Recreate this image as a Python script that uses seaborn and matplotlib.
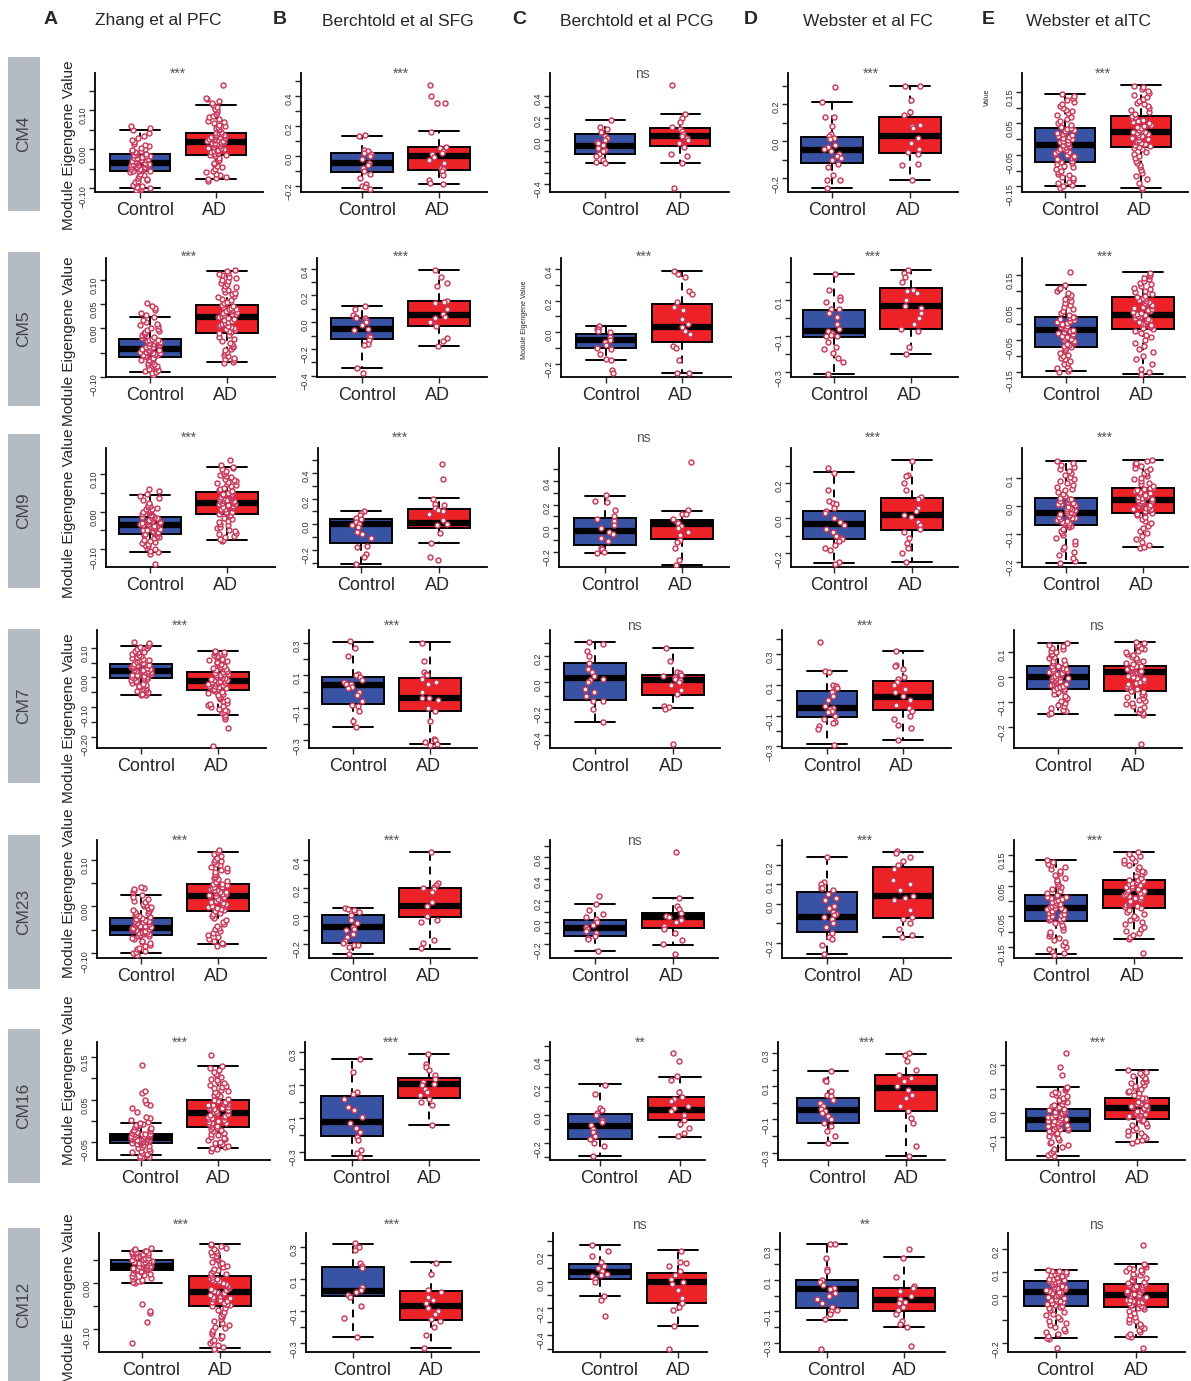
import numpy as np
import pandas as pd
import seaborn as sns
import matplotlib.pyplot as plt
from matplotlib.patches import Rectangle
from matplotlib.transforms import ScaledTranslation

# ---- data ----
MODULES = ["CM4", "CM5", "CM9", "CM7", "CM23", "CM16", "CM12"]
GROUPS = ["Control", "AD"]
LETTERS = ["A", "B", "C", "D", "E"]
STUDIES = ["Zhang et al PFC", "Berchtold et al SFG", "Berchtold et al PCG",
           "Webster et al FC", "Webster et alTC"]

# significance per study, in module order
sig_zhang = ["***", "***", "***", "***", "***", "***", "***"]
sig_sfg = ["***", "***", "***", "***", "***", "***", "***"]
sig_pcg = ["ns", "***", "ns", "ns", "ns", "**", "ns"]
sig_fc = ["***", "***", "***", "***", "***", "***", "**"]
sig_tc = ["***", "***", "***", "ns", "***", "***", "ns"]

# box summaries: (lower whisker, q1, median, q3, upper whisker) for Control, AD
box_zhang = {
    "CM4": ([-0.100, -0.056, -0.035, -0.012, 0.050], [-0.075, -0.013, 0.018, 0.042, 0.113]),
    "CM5": ([-0.090, -0.058, -0.043, -0.022, 0.023], [-0.070, -0.010, 0.023, 0.048, 0.119]),
    "CM9": ([-0.108, -0.059, -0.036, -0.013, 0.044], [-0.076, -0.006, 0.024, 0.051, 0.119]),
    "CM7": ([-0.058, -0.002, 0.022, 0.044, 0.106], [-0.124, -0.041, -0.013, 0.020, 0.090]),
    "CM23": ([-0.100, -0.060, -0.045, -0.025, 0.025], [-0.081, -0.010, 0.023, 0.048, 0.117]),
    "CM16": ([-0.080, -0.053, -0.041, -0.030, -0.006], [-0.065, -0.014, 0.019, 0.048, 0.128]),
    "CM12": ([0.000, 0.029, 0.038, 0.051, 0.070], [-0.140, -0.049, -0.018, 0.016, 0.085]),
}
box_sfg = {
    "CM4": ([-0.211, -0.109, -0.047, 0.016, 0.133], [-0.184, -0.096, 0.000, 0.062, 0.162]),
    "CM5": ([-0.345, -0.128, -0.053, 0.035, 0.118], [-0.178, -0.025, 0.055, 0.158, 0.388]),
    "CM9": ([-0.309, -0.144, 0.000, 0.041, 0.103], [-0.149, -0.031, 0.010, 0.119, 0.206]),
    "CM7": ([-0.217, -0.074, 0.043, 0.092, 0.308], [-0.322, -0.121, -0.041, 0.086, 0.304]),
    "CM23": ([-0.270, -0.192, -0.078, 0.005, 0.057], [-0.233, -0.005, 0.074, 0.200, 0.460]),
    "CM16": ([-0.324, -0.206, -0.120, 0.034, 0.256], [-0.140, 0.026, 0.110, 0.146, 0.290]),
    "CM12": ([-0.260, -0.006, 0.027, 0.173, 0.317], [-0.330, -0.156, -0.069, 0.025, 0.204]),
}
box_pcg = {
    "CM4": ([-0.210, -0.127, -0.052, 0.052, 0.180], [-0.206, -0.058, 0.036, 0.112, 0.236]),
    "CM5": ([-0.175, -0.100, -0.053, -0.013, 0.040], [-0.260, -0.066, 0.032, 0.178, 0.390]),
    "CM9": ([-0.214, -0.141, -0.023, 0.090, 0.276], [-0.310, -0.090, 0.034, 0.065, 0.146]),
    "CM7": ([-0.298, -0.136, 0.033, 0.152, 0.310], [-0.194, -0.098, 0.020, 0.058, 0.265]),
    "CM23": ([-0.264, -0.128, -0.052, 0.018, 0.167], [-0.210, -0.052, 0.048, 0.090, 0.225]),
    "CM16": ([-0.288, -0.167, -0.074, 0.007, 0.224], [-0.152, -0.033, 0.038, 0.129, 0.276]),
    "CM12": ([-0.108, 0.020, 0.070, 0.133, 0.275], [-0.330, -0.163, -0.005, 0.063, 0.233]),
}
box_fc = {
    "CM4": ([-0.250, -0.115, -0.048, 0.025, 0.210], [-0.210, -0.061, 0.029, 0.133, 0.300]),
    "CM5": ([-0.306, -0.103, -0.072, 0.046, 0.245], [-0.198, -0.059, 0.070, 0.172, 0.269]),
    "CM9": ([-0.253, -0.118, -0.032, 0.042, 0.263], [-0.248, -0.067, 0.019, 0.118, 0.333]),
    "CM7": ([-0.285, -0.112, -0.052, 0.058, 0.190], [-0.260, -0.063, 0.022, 0.125, 0.322]),
    "CM23": ([-0.256, -0.145, -0.070, 0.060, 0.242], [-0.170, -0.073, 0.041, 0.187, 0.267]),
    "CM16": ([-0.240, -0.124, -0.044, 0.032, 0.190], [-0.318, -0.050, 0.090, 0.170, 0.296]),
    "CM12": ([-0.153, -0.077, 0.040, 0.100, 0.330], [-0.200, -0.100, -0.028, 0.047, 0.245]),
}
box_tc = {
    "CM4": ([-0.150, -0.072, -0.020, 0.034, 0.143], [-0.155, -0.024, 0.021, 0.074, 0.172]),
    "CM5": ([-0.145, -0.071, -0.019, 0.022, 0.119], [-0.154, -0.016, 0.028, 0.082, 0.160]),
    "CM9": ([-0.204, -0.068, -0.024, 0.028, 0.163], [-0.146, -0.024, 0.022, 0.066, 0.166]),
    "CM7": ([-0.149, -0.047, -0.001, 0.047, 0.137], [-0.151, -0.054, 0.019, 0.047, 0.143]),
    "CM23": ([-0.173, -0.066, -0.021, 0.021, 0.135], [-0.124, -0.023, 0.029, 0.070, 0.162]),
    "CM16": ([-0.180, -0.075, -0.028, 0.014, 0.108], [-0.121, -0.024, 0.021, 0.063, 0.178]),
    "CM12": ([-0.177, -0.043, 0.016, 0.065, 0.110], [-0.173, -0.045, 0.004, 0.050, 0.135]),
}

# individual samples, estimated from the jittered dots.
# the two large cohorts are written in thousandths to keep the lists short.
pts_zhang_milli = {
    "CM4": ([-105, -103, -101, -99, -97, -95, -93, -90, -87, -84, -81, -78, -75, -72, -69, -66, -62, -59,
             -56, -55, -54, -53, -51, -50, -49, -48, -46, -45, -44, -43, -41, -40, -39, -38, -37, -36,
             -35, -34, -33, -31, -30, -29, -28, -26, -25, -24, -23, -21, -20, -19, -17, -16, -14, -13,
             -11, -9, -7, -5, -3, -1, 2, 5, 8, 11, 15, 19, 24, 29, 35, 42, 50, 55, 59],
            [-80, -76, -73, -70, -66, -62, -58, -54, -50, -46, -42, -38, -34, -30, -26, -22, -18, -15,
             -13, -11, -9, -7, -5, -3, -1, 1, 3, 5, 7, 9, 11, 12, 14, 15, 16, 17,
             18, 19, 21, 22, 23, 25, 26, 27, 29, 30, 31, 33, 34, 35, 37, 38, 40, 41,
             43, 46, 49, 52, 55, 58, 61, 64, 67, 70, 74, 78, 82, 86, 90, 95, 100, 105, 110, 115, 120,
             125, 130, 133, 165]),
    "CM5": ([-95, -92, -90, -88, -86, -84, -82, -80, -78, -76, -74, -72, -70, -68, -66, -64, -62, -60,
             -58, -57, -56, -55, -54, -53, -52, -51, -50, -49, -48, -47, -46, -45, -44, -43,
             -42, -41, -39, -38, -37, -35, -34, -33, -31, -30, -29, -27, -26, -25, -24, -23,
             -21, -19, -17, -15, -13, -11, -9, -7, -5, -3, -1, 1, 4, 7, 10, 14, 18, 23, 28, 32, 37,
             42, 46, 52],
            [-72, -69, -66, -63, -60, -57, -54, -51, -48, -45, -42, -39, -36, -33, -29, -25, -21, -17, -13,
             -10, -8, -6, -4, -2, 0, 2, 4, 6, 8, 10, 12, 14, 16, 18, 20, 22,
             23, 24, 26, 27, 29, 30, 32, 33, 35, 36, 38, 39, 41, 42, 44, 45, 47,
             49, 52, 55, 58, 61, 64, 67, 70, 73, 76, 79, 82, 85, 88, 91, 94, 97, 100, 103, 106, 109,
             112, 115, 118, 121]),
    "CM9": ([-140, -112, -108, -104, -100, -96, -92, -89, -86, -83, -80, -77, -74, -71, -68, -65, -62, -60,
             -59, -57, -56, -54, -53, -51, -50, -48, -47, -45, -44, -42, -41, -39, -38, -37,
             -36, -34, -33, -31, -30, -28, -27, -25, -24, -22, -21, -19, -18, -16, -15, -14,
             -12, -10, -8, -6, -4, -2, 0, 2, 4, 6, 8, 10, 12, 14, 17, 22, 30, 36, 42, 47, 55, 59],
            [-79, -76, -72, -68, -64, -60, -56, -52, -48, -44, -40, -36, -32, -28, -24, -20, -16, -12, -8,
             -6, -4, -2, 0, 2, 4, 6, 8, 10, 12, 13, 15, 16, 18, 19, 21, 22,
             24, 25, 27, 28, 30, 31, 33, 34, 36, 37, 39, 40, 42, 43, 45, 46, 48, 50,
             52, 55, 58, 61, 64, 67, 70, 73, 76, 79, 82, 85, 88, 91, 94, 97, 100, 104, 108, 112, 116,
             119, 125, 137]),
    "CM7": ([-60, -57, -54, -51, -48, -45, -42, -39, -36, -33, -30, -27, -24, -21, -18, -15, -12, -9, -6, -3,
             -2, 0, 2, 4, 5, 7, 8, 10, 11, 13, 14, 16, 17, 19, 20, 21,
             22, 23, 25, 26, 27, 29, 30, 31, 33, 34, 35, 37, 38, 39, 41, 42, 43,
             45, 48, 51, 54, 57, 60, 63, 66, 69, 72, 75, 78, 81, 84, 87, 90, 94, 98, 102, 106, 110, 115,
             120],
            [-230, -170, -140, -132, -124, -120, -116, -112, -108, -104, -100, -96, -92, -88, -84, -80, -76,
             -72, -68, -64, -60, -56, -52, -48, -44,
             -41, -39, -37, -35, -33, -31, -29, -27, -25, -23, -21, -19, -17, -15, -14,
             -13, -11, -9, -7, -5, -3, -1, 1, 3, 5, 7, 9, 11, 13, 15, 17, 19,
             21, 24, 27, 30, 33, 36, 39, 42, 45, 48, 51, 54, 57, 60, 63, 66, 69, 72, 75, 78, 81, 84, 87,
             90]),
    "CM23": ([-103, -100, -97, -94, -91, -88, -85, -82, -79, -76, -73, -70, -67, -64, -62,
              -60, -59, -58, -57, -56, -55, -54, -53, -52, -51, -50, -49, -48, -47, -46,
              -45, -44, -43, -42, -41, -39, -38, -37, -35, -34, -33, -31, -30, -29, -27, -26,
              -24, -22, -20, -18, -16, -14, -12, -10, -8, -6, -4, -2, 0, 3, 6, 9, 12, 16, 20, 25, 30,
              35, 38, 40, 42],
             [-85, -81, -77, -73, -69, -65, -61, -57, -53, -49, -45, -41, -37, -33, -29, -25, -21, -17, -13,
              -10, -8, -6, -4, -2, 0, 2, 4, 6, 8, 10, 12, 14, 16, 18, 20, 22,
              23, 24, 26, 27, 29, 30, 32, 33, 35, 36, 38, 39, 41, 42, 44, 45, 47,
              49, 52, 55, 58, 61, 64, 67, 70, 73, 76, 79, 82, 85, 88, 91, 94, 97, 100, 104, 108, 112,
              116, 121]),
    "CM16": ([-88, -86, -84, -82, -80, -78, -76, -74, -72, -70, -67, -64, -61, -58, -56, -54,
              -53, -52, -51, -50, -50, -49, -48, -47, -46, -46, -45, -44, -43, -42, -42, -41,
              -40, -39, -39, -38, -37, -36, -36, -35, -34, -33, -33, -32, -31, -31, -30,
              -29, -27, -25, -23, -21, -19, -17, -15, -13, -11, -9, -7, -5, -2, 2, 6, 10, 20, 30, 37,
              42, 50, 65, 70, 130],
             [-70, -67, -64, -61, -58, -55, -52, -49, -46, -43, -40, -37, -34, -31, -28, -25, -22, -19, -16,
              -14, -12, -10, -8, -6, -4, -2, 0, 2, 4, 6, 8, 10, 12, 14, 16, 18,
              19, 21, 22, 24, 25, 27, 28, 30, 31, 33, 34, 36, 37, 39, 40, 42, 44, 46,
              49, 52, 55, 58, 61, 64, 67, 70, 73, 76, 79, 82, 85, 88, 91, 95, 99, 103, 107, 111, 115,
              119, 123, 128, 155]),
    "CM12": ([-130, -85, -65, -60, -45,
              0, 2, 4, 6, 8, 10, 12, 14, 16, 18, 20, 22, 24, 26, 27, 28,
              29, 30, 30, 31, 32, 32, 33, 34, 34, 35, 35, 36, 37, 37,
              38, 39, 40, 41, 42, 43, 44, 45, 46, 47, 48, 49, 50, 51,
              52, 53, 54, 55, 56, 57, 58, 59, 60, 61, 62, 63, 64, 65, 66, 67, 68, 69, 70, 72, 74, 76],
             [-146, -142, -138, -134, -130, -126, -122, -118, -114, -110, -106, -102, -98, -94, -90, -86,
              -82, -78, -74, -70, -66, -62, -58, -54, -50,
              -48, -46, -44, -42, -40, -38, -36, -34, -32, -30, -28, -26, -24, -22, -20,
              -18, -16, -14, -12, -10, -8, -6, -4, -2, 0, 2, 4, 6, 8, 10, 12, 14,
              17, 20, 23, 26, 29, 32, 35, 38, 41, 44, 47, 50, 53, 56, 59, 62, 65, 68, 71, 74, 77, 80,
              83, 86]),
}
pts_tc_milli = {
    "CM4": ([-155, -150, -145, -140, -135, -130, -125, -120, -115, -110, -105, -100, -95, -90, -85, -80, -76,
             -72, -69, -66, -63, -60, -57, -54, -51, -48, -45, -42, -39, -36, -33, -30, -27, -24, -22,
             -20, -17, -14, -11, -8, -5, -2, 1, 4, 7, 10, 13, 16, 19, 22, 25, 28, 31,
             34, 40, 46, 52, 58, 64, 70, 76, 82, 88, 94, 100, 106, 112, 118, 124, 130, 136, 143],
            [-160, -155, -140, -128, -118, -108, -98, -90, -82, -75, -68, -61, -54, -47, -40, -33, -28,
             -24, -21, -18, -15, -12, -9, -6, -3, 0, 3, 6, 9, 12, 15, 18,
             21, 24, 27, 30, 34, 38, 42, 46, 50, 54, 58, 62, 66, 70,
             74, 80, 86, 92, 98, 104, 110, 116, 122, 128, 134, 140, 146, 152, 158, 164, 170]),
    "CM5": ([-148, -145, -140, -135, -130, -125, -120, -115, -110, -105, -100, -95, -90, -85, -80, -75,
             -71, -68, -65, -62, -59, -56, -53, -50, -47, -44, -41, -38, -35, -32, -29, -26, -23, -21,
             -19, -16, -13, -10, -7, -4, -1, 2, 5, 8, 11, 14, 17, 20,
             22, 28, 34, 40, 46, 52, 58, 64, 70, 76, 82, 88, 94, 100, 106, 112, 119, 160],
            [-156, -150, -140, -125, -110, -98, -88, -78, -68, -58, -50, -42, -35, -28, -22,
             -16, -13, -10, -7, -4, -1, 2, 5, 8, 11, 14, 17, 20, 23, 26,
             28, 31, 34, 37, 40, 43, 46, 49, 52, 55, 58, 61, 64, 67, 70, 73, 76, 79,
             82, 87, 92, 97, 102, 107, 112, 117, 122, 127, 132, 137, 142, 147, 152, 158]),
    "CM9": ([-204, -195, -185, -175, -165, -155, -145, -135, -125, -115, -105, -97, -90, -83, -76, -71,
             -68, -65, -62, -59, -56, -53, -50, -47, -44, -41, -38, -35, -32, -29, -26,
             -24, -21, -18, -15, -12, -9, -6, -3, 0, 3, 6, 9, 12, 15, 18, 21, 24, 26,
             28, 35, 42, 49, 56, 63, 70, 77, 84, 91, 98, 105, 112, 119, 126, 133, 140, 147, 155, 163],
            [-150, -146, -138, -128, -118, -108, -98, -88, -78, -70, -62, -54, -46, -38, -31, -27,
             -24, -21, -18, -15, -12, -9, -6, -3, 0, 3, 6, 9, 12, 15, 18, 20,
             22, 25, 28, 31, 34, 37, 40, 43, 46, 49, 52, 55, 58, 61, 64,
             66, 72, 78, 84, 90, 96, 102, 108, 114, 120, 126, 132, 138, 144, 150, 156, 162, 166]),
    "CM7": ([-150, -145, -138, -131, -124, -117, -110, -103, -96, -89, -82, -75, -68, -61, -55, -50,
             -47, -44, -41, -38, -35, -32, -29, -26, -23, -20, -17, -14, -11, -8, -5, -3,
             -1, 2, 5, 8, 11, 14, 17, 20, 23, 26, 29, 32, 35, 38, 41, 44,
             47, 53, 59, 65, 71, 77, 83, 89, 95, 101, 107, 113, 119, 125, 131, 137],
            [-270, -151, -145, -139, -133, -127, -121, -115, -109, -103, -97, -91, -85, -79, -73, -67, -61,
             -57, -54, -49, -44, -39, -34, -29, -24, -19, -14, -9, -4, 1, 6, 11, 15, 17,
             19, 21, 23, 25, 27, 29, 31, 33, 35, 37, 39, 41, 43, 45,
             47, 53, 59, 65, 71, 77, 83, 89, 95, 101, 107, 113, 119, 125, 131, 137, 143]),
    "CM23": ([-175, -170, -163, -156, -149, -142, -135, -128, -121, -114, -107, -100, -93, -86, -79, -72,
              -66, -63, -60, -57, -54, -51, -48, -45, -42, -39, -36, -33, -30, -27, -24,
              -21, -18, -15, -12, -9, -6, -3, 0, 3, 6, 9, 12, 15, 18,
              21, 27, 33, 39, 45, 51, 57, 63, 69, 75, 81, 87, 93, 99, 105, 111, 117, 123, 129, 135],
             [-170, -124, -118, -111, -104, -97, -90, -83, -76, -69, -62, -55, -48, -41, -34, -28,
              -23, -20, -17, -14, -11, -8, -5, -2, 1, 4, 7, 10, 13, 16, 19, 22, 25, 27,
              29, 32, 35, 38, 41, 44, 47, 50, 53, 56, 59, 62, 65, 68,
              70, 76, 82, 88, 94, 100, 106, 112, 118, 124, 130, 136, 142, 148, 154, 162]),
    "CM16": ([-182, -176, -168, -160, -152, -144, -136, -128, -120, -112, -104, -97, -90, -83, -78,
              -75, -72, -69, -66, -63, -60, -57, -54, -51, -48, -45, -42, -39, -36, -33, -30,
              -28, -25, -22, -19, -16, -13, -10, -7, -4, -1, 2, 5, 8, 11,
              14, 19, 24, 29, 34, 39, 44, 49, 54, 59, 64, 69, 74, 79, 84, 89, 94, 99, 104, 108, 160,
              190, 250],
             [-125, -119, -112, -105, -98, -91, -84, -77, -70, -63, -56, -49, -42, -35, -29,
              -24, -21, -18, -15, -12, -9, -6, -3, 0, 3, 6, 9, 12, 15, 18,
              21, 24, 27, 30, 33, 36, 39, 42, 45, 48, 51, 54, 57, 60,
              63, 69, 75, 81, 87, 93, 99, 105, 111, 117, 123, 129, 135, 141, 147, 153, 159, 165, 171,
              178]),
    "CM12": ([-220, -180, -177, -170, -162, -154, -146, -138, -130, -122, -114, -106, -98, -90, -82, -74,
              -66, -58, -50, -46,
              -43, -39, -35, -31, -27, -23, -19, -15, -11, -7, -3, 1, 5, 9, 13,
              16, 19, 22, 25, 28, 31, 34, 37, 40, 43, 46, 49, 52, 55, 58, 61, 63,
              65, 68, 71, 74, 77, 80, 83, 86, 89, 92, 95, 98, 101, 104, 107, 110],
             [-220, -175, -168, -160, -152, -144, -136, -128, -120, -112, -104, -96, -88, -80, -72, -64,
              -56, -50,
              -45, -42, -39, -36, -33, -30, -27, -24, -21, -18, -15, -12, -9, -6, -3, 0, 2,
              4, 7, 10, 13, 16, 19, 22, 25, 28, 31, 34, 37, 40, 43, 46, 48,
              50, 55, 60, 65, 70, 75, 80, 85, 90, 95, 100, 105, 110, 115, 120, 125, 130, 135, 215]),
}
pts_sfg = {
    "CM4": ([0.13, 0.14, 0.04, 0.03, 0.02, 0.01, 0.00, -0.02, -0.05, -0.06, -0.08, -0.10, -0.12, -0.15, -0.19,
             -0.20, -0.21, -0.22],
            [0.47, 0.40, 0.35, 0.35, 0.16, 0.06, 0.05, 0.03, 0.02, 0.01, -0.01, -0.03, -0.05, -0.08, -0.09,
             -0.10, -0.13, -0.16, -0.18, -0.19]),
    "CM5": ([0.12, 0.10, 0.05, 0.04, 0.03, 0.03, 0.02, 0.00, -0.02, -0.05, -0.06, -0.10, -0.11, -0.13, -0.16,
             -0.17, -0.34, -0.38],
            [0.39, 0.34, 0.29, 0.27, 0.16, 0.15, 0.14, 0.10, 0.06, 0.04, 0.03, 0.00, -0.02, -0.03, -0.12,
             -0.14, -0.18]),
    "CM9": ([0.10, 0.09, 0.07, 0.05, 0.04, 0.02, 0.00, -0.01, -0.02, -0.06, -0.08, -0.11, -0.17, -0.18, -0.23,
             -0.26, -0.31],
            [0.47, 0.35, 0.20, 0.16, 0.15, 0.13, 0.11, 0.10, 0.08, 0.03, 0.00, -0.01, -0.07, -0.15, -0.26,
             -0.28]),
    "CM7": ([0.31, 0.27, 0.22, 0.11, 0.10, 0.09, 0.07, 0.06, 0.05, 0.05, 0.03, 0.02, 0.00, -0.02, -0.06, -0.08,
             -0.09, -0.12, -0.18, -0.22],
            [0.30, 0.19, 0.12, 0.11, 0.10, 0.08, 0.06, 0.05, 0.00, -0.04, -0.04, -0.05, -0.10, -0.12, -0.18,
             -0.29, -0.30, -0.31, -0.32, -0.33]),
    "CM23": ([0.06, 0.05, 0.04, 0.03, 0.01, -0.03, -0.05, -0.08, -0.09, -0.10, -0.13, -0.15, -0.18, -0.19,
              -0.21, -0.21, -0.22, -0.27],
             [0.46, 0.24, 0.22, 0.21, 0.20, 0.19, 0.17, 0.10, 0.07, 0.00, -0.03, -0.04, -0.17, -0.19, -0.23]),
    "CM16": ([0.26, 0.18, 0.06, 0.05, 0.02, -0.03, -0.05, -0.09, -0.13, -0.16, -0.18, -0.21, -0.23, -0.29,
              -0.31, -0.33],
             [0.29, 0.23, 0.21, 0.19, 0.16, 0.14, 0.12, 0.11, 0.10, 0.08, 0.06, 0.04, 0.02, 0.00, -0.02, -0.14]),
    "CM12": ([0.32, 0.30, 0.28, 0.20, 0.18, 0.17, 0.05, 0.03, 0.02, 0.00, -0.01, -0.07, -0.14, -0.26],
             [0.20, 0.13, 0.03, 0.02, -0.01, -0.03, -0.05, -0.08, -0.10, -0.12, -0.15, -0.16, -0.20, -0.25,
              -0.33]),
}
pts_pcg = {
    "CM4": ([0.18, 0.12, 0.10, 0.07, 0.04, 0.02, 0.00, -0.02, -0.03, -0.05, -0.07, -0.09, -0.10, -0.13, -0.15,
             -0.18, -0.20, -0.21],
            [0.50, 0.24, 0.20, 0.16, 0.12, 0.10, 0.08, 0.05, 0.04, 0.02, 0.00, -0.03, -0.06, -0.13, -0.15,
             -0.21, -0.44]),
    "CM5": ([0.04, 0.02, 0.02, 0.01, 0.00, -0.03, -0.05, -0.06, -0.08, -0.10, -0.11, -0.14, -0.17, -0.18,
             -0.24, -0.26],
            [0.39, 0.37, 0.35, 0.26, 0.24, 0.19, 0.16, 0.14, 0.08, 0.05, 0.03, 0.01, -0.01, -0.09, -0.10, -0.18,
             -0.26, -0.26]),
    "CM9": ([0.28, 0.23, 0.22, 0.15, 0.10, 0.08, 0.06, 0.03, 0.00, -0.03, -0.05, -0.08, -0.11, -0.17, -0.18,
             -0.20, -0.21],
            [0.56, 0.15, 0.12, 0.12, 0.08, 0.05, 0.04, 0.02, 0.00, -0.03, -0.06, -0.10, -0.12, -0.17, -0.27,
             -0.31]),
    "CM7": ([0.31, 0.29, 0.24, 0.20, 0.15, 0.10, 0.08, 0.05, 0.03, 0.02, 0.00, -0.05, -0.07, -0.10, -0.14,
             -0.14, -0.20, -0.30],
            [0.265, 0.16, 0.08, 0.07, 0.06, 0.05, 0.04, 0.03, 0.02, 0.00, -0.02, -0.06, -0.09, -0.18, -0.19,
             -0.20, -0.47]),
    "CM23": ([0.24, 0.17, 0.11, 0.08, 0.05, 0.03, 0.00, -0.02, -0.04, -0.06, -0.08, -0.10, -0.12, -0.14, -0.15,
              -0.26],
             [0.64, 0.22, 0.15, 0.12, 0.09, 0.06, 0.05, 0.03, 0.02, 0.00, -0.03, -0.06, -0.10, -0.16, -0.20,
              -0.29]),
    "CM16": ([0.22, 0.15, 0.05, 0.04, 0.02, 0.00, -0.03, -0.05, -0.07, -0.10, -0.12, -0.15, -0.17, -0.20,
              -0.22, -0.29],
             [0.45, 0.39, 0.28, 0.25, 0.17, 0.13, 0.12, 0.10, 0.07, 0.05, 0.03, 0.00, -0.03, -0.06, -0.09, -0.13,
              -0.15]),
    "CM12": ([0.27, 0.23, 0.19, 0.15, 0.12, 0.10, 0.08, 0.06, 0.05, 0.04, 0.02, 0.00, -0.11, -0.14, -0.26],
             [0.23, 0.15, 0.14, 0.12, 0.08, 0.05, 0.02, 0.00, -0.02, -0.06, -0.12, -0.16, -0.19, -0.21, -0.33,
              -0.50]),
}
pts_fc = {
    "CM4": ([0.29, 0.21, 0.13, 0.13, 0.08, 0.04, 0.03, 0.02, 0.01, -0.02, -0.03, -0.04, -0.05, -0.07, -0.08,
             -0.09, -0.10, -0.12, -0.14, -0.18, -0.21, -0.21, -0.25],
            [0.30, 0.30, 0.22, 0.16, 0.14, 0.09, 0.08, 0.07, 0.02, -0.01, -0.04, -0.06, -0.07, -0.12, -0.13,
             -0.21]),
    "CM5": ([0.245, 0.16, 0.12, 0.10, 0.09, 0.05, 0.05, 0.03, 0.01, -0.03, -0.06, -0.07, -0.08, -0.09, -0.10,
             -0.10, -0.13, -0.16, -0.17, -0.19, -0.22, -0.24, -0.31],
            [0.27, 0.25, 0.23, 0.20, 0.16, 0.15, 0.14, 0.10, 0.07, 0.06, 0.03, 0.00, -0.03, -0.06, -0.07, -0.16,
             -0.20]),
    "CM9": ([0.29, 0.26, 0.16, 0.10, 0.09, 0.08, 0.06, 0.04, 0.03, 0.00, -0.02, -0.04, -0.06, -0.08, -0.10,
             -0.11, -0.12, -0.13, -0.15, -0.17, -0.18, -0.25, -0.26],
            [0.33, 0.25, 0.24, 0.20, 0.16, 0.12, 0.11, 0.06, 0.04, 0.02, 0.01, -0.02, -0.04, -0.06, -0.08, -0.11,
             -0.14, -0.17, -0.20, -0.25]),
    "CM7": ([0.38, 0.19, 0.18, 0.10, 0.09, 0.08, 0.06, 0.05, 0.03, 0.00, -0.04, -0.05, -0.06, -0.07, -0.08,
             -0.10, -0.12, -0.14, -0.15, -0.17, -0.19, -0.29],
            [0.32, 0.23, 0.22, 0.20, 0.15, 0.14, 0.12, 0.10, 0.07, 0.05, 0.03, 0.00, -0.03, -0.05, -0.07, -0.10,
             -0.12, -0.16, -0.18, -0.26]),
    "CM23": ([0.24, 0.11, 0.10, 0.08, 0.08, 0.07, 0.05, 0.03, 0.02, -0.01, -0.02, -0.04, -0.05, -0.06, -0.07,
              -0.08, -0.10, -0.12, -0.15, -0.17, -0.18, -0.21, -0.26],
             [0.27, 0.26, 0.24, 0.22, 0.20, 0.18, 0.12, 0.10, 0.07, 0.04, 0.03, 0.02, -0.03, -0.07, -0.08, -0.10,
              -0.13, -0.16, -0.17]),
    "CM16": ([0.19, 0.14, 0.13, 0.07, 0.05, 0.04, 0.02, 0.00, -0.02, -0.04, -0.05, -0.06, -0.08, -0.10, -0.12,
              -0.14, -0.17, -0.20, -0.24],
             [0.30, 0.29, 0.25, 0.20, 0.17, 0.15, 0.13, 0.10, 0.08, 0.05, 0.03, -0.02, -0.05, -0.09, -0.12, -0.26,
              -0.32]),
    "CM12": ([0.33, 0.33, 0.24, 0.17, 0.16, 0.10, 0.09, 0.07, 0.05, 0.04, 0.02, 0.00, -0.02, -0.05, -0.07,
              -0.09, -0.10, -0.12, -0.15, -0.34],
             [0.30, 0.24, 0.12, 0.06, 0.05, 0.03, 0.00, -0.02, -0.04, -0.05, -0.07, -0.09, -0.12, -0.16, -0.18,
              -0.20, -0.32]),
}

# y axis: (all ticks, labelled ticks, limits)
axis_zhang = {
    "CM4": ([-0.10, -0.05, 0.0, 0.05, 0.10, 0.15], [-0.10, 0.0, 0.10], (-0.109, 0.196)),
    "CM5": ([-0.10, -0.05, 0.0, 0.05, 0.10], [-0.10, 0.0, 0.05, 0.10], (-0.098, 0.145)),
    "CM9": ([-0.10, -0.05, 0.0, 0.05, 0.10], [-0.10, 0.0, 0.10], (-0.147, 0.169)),
    "CM7": ([-0.20, -0.15, -0.10, -0.05, 0.0, 0.05, 0.10], [-0.20, -0.10, 0.0, 0.10], (-0.236, 0.159)),
    "CM23": ([-0.10, -0.05, 0.0, 0.05, 0.10], [-0.10, 0.0, 0.10], (-0.110, 0.142)),
    "CM16": ([-0.05, 0.0, 0.05, 0.10, 0.15], [-0.05, 0.05, 0.15], (-0.092, 0.185)),
    "CM12": ([-0.10, -0.05, 0.0, 0.05], [-0.10, 0.0], (-0.149, 0.109)),
}
axis_sfg = {
    "CM4": ([-0.2, -0.1, 0.0, 0.1, 0.2, 0.3, 0.4, 0.5], [-0.2, 0.0, 0.2, 0.4], (-0.24, 0.55)),
    "CM5": ([-0.4, -0.3, -0.2, -0.1, 0.0, 0.1, 0.2, 0.3, 0.4], [-0.4, -0.2, 0.0, 0.2, 0.4], (-0.41, 0.48)),
    "CM9": ([-0.3, -0.2, -0.1, 0.0, 0.1, 0.2, 0.3, 0.4, 0.5], [-0.2, 0.0, 0.2, 0.4], (-0.335, 0.595)),
    "CM7": ([-0.3, -0.2, -0.1, 0.0, 0.1, 0.2, 0.3], [-0.3, -0.1, 0.1, 0.3], (-0.347, 0.38)),
    "CM23": ([-0.2, -0.1, 0.0, 0.1, 0.2, 0.3, 0.4], [-0.2, 0.0, 0.2, 0.4], (-0.30, 0.544)),
    "CM16": ([-0.3, -0.2, -0.1, 0.0, 0.1, 0.2, 0.3], [-0.3, -0.1, 0.1, 0.3], (-0.35, 0.36)),
    "CM12": ([-0.3, -0.2, -0.1, 0.0, 0.1, 0.2, 0.3], [-0.3, -0.1, 0.1, 0.3], (-0.354, 0.385)),
}
axis_pcg = {
    "CM4": ([-0.4, -0.3, -0.2, -0.1, 0.0, 0.1, 0.2, 0.3, 0.4], [-0.4, 0.0, 0.2, 0.4], (-0.473, 0.609)),
    "CM5": ([-0.2, -0.1, 0.0, 0.1, 0.2, 0.3, 0.4], [-0.2, 0.0, 0.2, 0.4], (-0.285, 0.47)),
    "CM9": ([-0.2, -0.1, 0.0, 0.1, 0.2, 0.3, 0.4, 0.5], [-0.2, 0.0, 0.2, 0.4], (-0.33, 0.68)),
    "CM7": ([-0.4, -0.3, -0.2, -0.1, 0.0, 0.1, 0.2, 0.3], [-0.4, -0.2, 0.0, 0.2], (-0.50, 0.40)),
    "CM23": ([-0.2, -0.1, 0.0, 0.1, 0.2, 0.3, 0.4, 0.5, 0.6, 0.7], [-0.2, 0.0, 0.2, 0.4, 0.6], (-0.325, 0.754)),
    "CM16": ([-0.3, -0.2, -0.1, 0.0, 0.1, 0.2, 0.3, 0.4, 0.5], [-0.2, 0.0, 0.2, 0.4], (-0.32, 0.526)),
    "CM12": ([-0.5, -0.4, -0.3, -0.2, -0.1, 0.0, 0.1, 0.2, 0.3], [-0.4, -0.2, 0.0, 0.2], (-0.525, 0.363)),
}
axis_fc = {
    "CM4": ([-0.2, -0.1, 0.0, 0.1, 0.2, 0.3], [-0.2, 0.0, 0.2], (-0.273, 0.368)),
    "CM5": ([-0.3, -0.2, -0.1, 0.0, 0.1, 0.2], [-0.3, -0.1, 0.1], (-0.325, 0.336)),
    "CM9": ([-0.2, -0.1, 0.0, 0.1, 0.2, 0.3], [-0.2, 0.0, 0.2], (-0.278, 0.402)),
    "CM7": ([-0.3, -0.2, -0.1, 0.0, 0.1, 0.2, 0.3, 0.4], [-0.3, -0.1, 0.1, 0.3], (-0.311, 0.456)),
    "CM23": ([-0.2, -0.1, 0.0, 0.1, 0.2, 0.3], [-0.2, 0.0, 0.1, 0.2], (-0.278, 0.327)),
    "CM16": ([-0.3, -0.2, -0.1, 0.0, 0.1, 0.2, 0.3], [-0.3, -0.1, 0.1, 0.3], (-0.344, 0.366)),
    "CM12": ([-0.3, -0.2, -0.1, 0.0, 0.1, 0.2, 0.3], [-0.3, -0.1, 0.1, 0.3], (-0.36, 0.40)),
}
axis_tc = {
    "CM4": ([-0.15, -0.10, -0.05, 0.0, 0.05, 0.10, 0.15], [-0.15, -0.05, 0.05, 0.15], (-0.168, 0.21)),
    "CM5": ([-0.15, -0.10, -0.05, 0.0, 0.05, 0.10, 0.15], [-0.15, -0.05, 0.05, 0.15], (-0.164, 0.203)),
    "CM9": ([-0.2, -0.1, 0.0, 0.1], [-0.2, -0.1, 0.0, 0.1], (-0.218, 0.208)),
    "CM7": ([-0.2, -0.1, 0.0, 0.1], [-0.2, -0.1, 0.0, 0.1], (-0.285, 0.19)),
    "CM23": ([-0.15, -0.10, -0.05, 0.0, 0.05, 0.10, 0.15], [-0.15, -0.05, 0.05, 0.15], (-0.186, 0.20)),
    "CM16": ([-0.1, 0.0, 0.1, 0.2], [-0.1, 0.0, 0.1, 0.2], (-0.197, 0.296)),
    "CM12": ([-0.2, -0.1, 0.0, 0.1, 0.2], [-0.2, 0.0, 0.1, 0.2], (-0.237, 0.267)),
}

# ---- layout (pixels of the 1191 x 1381 figure) ----
W, H = 1191, 1381
ROW_Y = [(73, 192), (258, 377), (448, 567), (630, 748), (840, 958), (1042, 1160), (1233, 1352)]
# per panel: (y-axis x, Control centre, AD centre, right end of x-axis)
PANEL_X = [
    [(95, 140, 216, 263), (301, 362, 439, 487), (550, 605, 680, 729), (788, 832, 910, 958), (1022, 1065, 1141, 1188)],
    [(106, 150, 227, 275), (317, 362, 439, 487), (561, 606, 682, 731), (791, 834, 911, 958), (1022, 1066, 1143, 1185)],
    [(106, 150, 227, 275), (318, 361, 439, 487), (559, 605, 682, 729), (791, 834, 912, 958), (1022, 1066, 1143, 1188)],
    [(97, 141, 218, 266), (309, 353, 430, 477), (550, 595, 673, 720), (782, 827, 903, 951), (1014, 1058, 1135, 1182)],
    [(97, 141, 218, 266), (309, 353, 430, 477), (550, 595, 673, 718), (782, 827, 903, 951), (1014, 1056, 1134, 1182)],
    [(97, 141, 218, 270), (305, 352, 429, 479), (550, 600, 680, 705), (778, 828, 906, 945), (1006, 1058, 1137, 1185)],
    [(99, 142, 220, 270), (306, 353, 431, 479), (553, 600, 678, 707), (780, 827, 904, 945), (1008, 1056, 1136, 1185)],
]
LABEL_SHIFT = [(5, -2)] * 5 + [(9, 0)] * 2   # x shift (px) of "Control" / "AD" text
SIG_Y = [74, 257, 438, 626, 841, 1043, 1225]
STRIP_Y = [(57, 211), (252, 406), (434, 588), (629, 783), (835, 989), (1029, 1183), (1228, 1381)]
YLABEL_Y = [145, 341, 513, 718, 893, 1080, 1298]
TITLE_X = [(51, 158), (280, 398), (519, 637), (751, 868), (988, 1088)]

BOX_COLORS = {"Control": "#3852A4", "AD": "#EC2227"}
DOT_FILL = "#FBF0DA"
DOT_EDGE = "#C73561"

sns.set_style("ticks")
plt.rcParams["font.family"] = ["Liberation Sans", "DejaVu Sans"]


def fmt_tick(t, step):
    dec = 2 if step < 0.099 else 1
    s = f"{round(t, dec) + 0.0:.{dec}f}"
    return s.replace("-", "\u2212")


def draw_panel(ax, box, pts, axis, xlim, shift):
    ctrl, ad = list(pts[0]), list(pts[1])
    box_df = pd.DataFrame({"group": ["Control"] * 5 + ["AD"] * 5, "value": box[0] + box[1]})
    pts_df = pd.DataFrame({"group": ["Control"] * len(ctrl) + ["AD"] * len(ad), "value": ctrl + ad})
    sns.boxplot(data=box_df, x="group", y="value", hue="group", order=GROUPS, hue_order=GROUPS,
                palette=BOX_COLORS, saturation=1, legend=False, whis=np.inf, width=0.8,
                linecolor="black", linewidth=1.4, showfliers=False, capwidths=0.52,
                medianprops=dict(linewidth=4.5, color="black", solid_capstyle="butt"),
                whiskerprops=dict(linestyle=(0, (4, 3))), ax=ax)
    sns.stripplot(data=pts_df, x="group", y="value", order=GROUPS, jitter=0.13, size=3.6,
                  color=DOT_FILL, edgecolor=DOT_EDGE, linewidth=1.0, zorder=4, ax=ax)
    ticks, labelled, ylim = axis
    step = min(np.diff(ticks))
    ax.set_xlim(*xlim)
    ax.set_ylim(*ylim)
    ax.set_yticks(ticks)
    ax.set_yticklabels([fmt_tick(t, step) if any(abs(t - l) < 1e-9 for l in labelled) else ""
                        for t in ticks])
    ax.set_xlabel("")
    ax.set_ylabel("")
    for side in ["top", "right"]:
        ax.spines[side].set_visible(False)
    for side in ["left", "bottom"]:
        ax.spines[side].set_linewidth(1.3)
        ax.spines[side].set_color("black")
    ax.tick_params(axis="y", labelsize=6.5, labelrotation=90, length=4, width=1.0,
                   pad=1.5, labelcolor="#333333")
    ax.tick_params(axis="x", labelsize=13, length=4, width=1.0, pad=3)
    # the original tick labels sit slightly off their ticks
    for lab, dx in zip(ax.get_xticklabels(), shift):
        lab.set_transform(lab.get_transform() + ScaledTranslation(dx / 100, 0, ax.figure.dpi_scale_trans))


def from_milli(d):
    return {k: (np.array(v[0]) / 1000, np.array(v[1]) / 1000) for k, v in d.items()}


fig = plt.figure(figsize=(W / 100, H / 100), dpi=100)

studies = [
    (box_zhang, from_milli(pts_zhang_milli), axis_zhang, sig_zhang),
    (box_sfg, pts_sfg, axis_sfg, sig_sfg),
    (box_pcg, pts_pcg, axis_pcg, sig_pcg),
    (box_fc, pts_fc, axis_fc, sig_fc),
    (box_tc, from_milli(pts_tc_milli), axis_tc, sig_tc),
]

for r, mod in enumerate(MODULES):
    y0, y1 = ROW_Y[r]
    for c, (boxes, pts, axes_info, sigs) in enumerate(studies):
        sx, c0, c1, rx = PANEL_X[r][c]
        unit = c1 - c0
        xlim = (-(c0 - sx) / unit, (rx - c0) / unit)
        ax = fig.add_axes([sx / W, 1 - y1 / H, (rx - sx) / W, (y1 - y0) / H])
        draw_panel(ax, boxes[mod], pts[mod], axes_info[mod], xlim, LABEL_SHIFT[r])
        # significance mark, centred between the two groups
        fig.text((c0 + c1) / 2 / W, 1 - SIG_Y[r] / H, sigs[r], ha="center", va="center",
                 fontsize=10, color="#555555")

    # grey row strip with module name
    s0, s1 = STRIP_Y[r]
    fig.add_artist(Rectangle((8 / W, 1 - s1 / H), 32 / W, (s1 - s0) / H,
                             transform=fig.transFigure, color="#B4BBC2", lw=0))
    fig.text(24 / W, 1 - (s0 + s1) / 2 / H, mod, rotation=90, ha="center", va="center",
             fontsize=12.5, color="#444444")
    fig.text(69 / W, 1 - YLABEL_Y[r] / H, "Module Eigengene Value", rotation=90,
             ha="center", va="center", fontsize=11)

# column headers
for c, (lx, tx) in enumerate(TITLE_X):
    fig.text(lx / W, 1 - 20 / H, LETTERS[c], ha="center", va="center", fontsize=14,
             fontweight="bold")
    fig.text(tx / W, 1 - 21 / H, STUDIES[c], ha="center", va="center", fontsize=12.5)

# stray small axis labels from the original panels
fig.text(987 / W, 1 - 97 / H, "Value", rotation=90, ha="center", va="center", fontsize=5)
fig.text(525 / W, 1 - 320 / H, "Module Eigengene Value", rotation=90, ha="center",
         va="center", fontsize=5)

fig.savefig("out.png", dpi=100)
